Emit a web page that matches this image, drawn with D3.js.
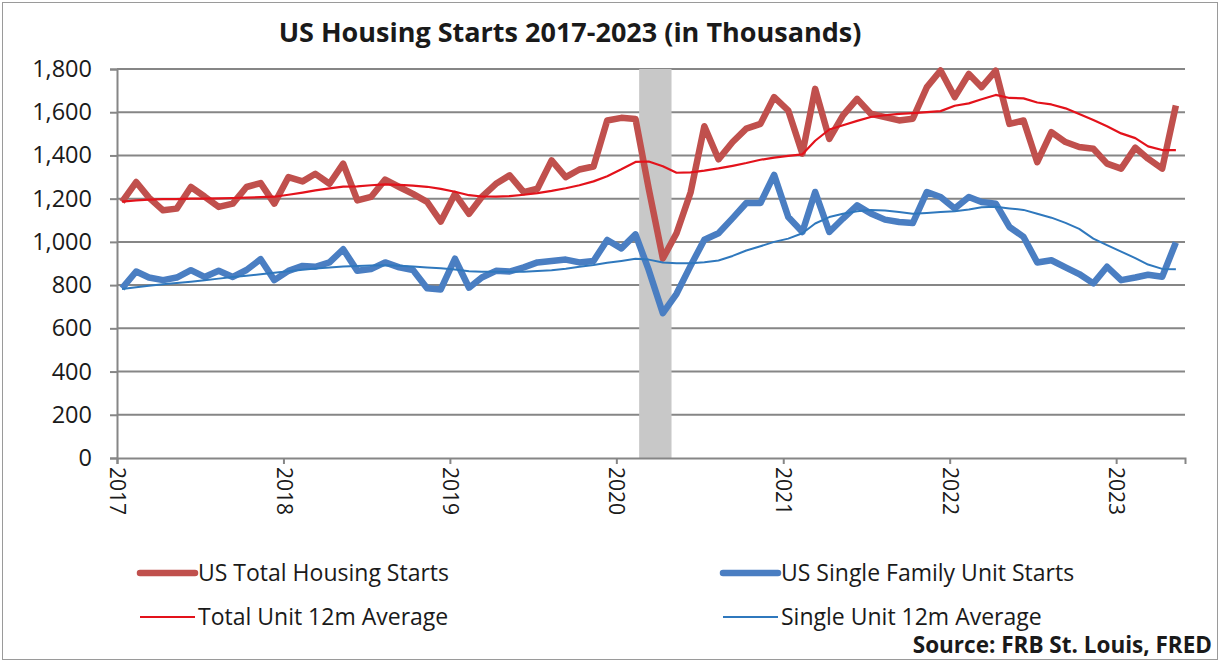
<!DOCTYPE html>
<html>
<head>
<meta charset="utf-8">
<script src="https://cdn.jsdelivr.net/npm/d3@7"></script>
<style>
  body { margin: 0; background: #fff; }
  svg text { font-family: "Open Sans", Lato, sans-serif; fill: #1a1a1a; }
</style>
</head>
<body>
<div id="chart"></div>
<script>
// monthly, Jan 2017 - May 2023 (thousands of units, SAAR)
var totalStarts = [1185, 1277, 1205, 1146, 1154, 1254, 1210, 1162, 1177, 1254, 1272, 1177,
  1300, 1280, 1315, 1269, 1362, 1192, 1208, 1288, 1254, 1222, 1185, 1094,
  1222, 1130, 1208, 1269, 1308, 1230, 1246, 1377, 1300, 1335, 1349, 1562,
  1574, 1569, 1246, 923, 1040, 1230, 1535, 1382, 1462, 1524, 1546, 1670,
  1608, 1408, 1708, 1477, 1585, 1662, 1593, 1577, 1562, 1570, 1716, 1793,
  1670, 1777, 1716, 1792, 1546, 1562, 1369, 1508, 1462, 1439, 1431, 1362,
  1339, 1436, 1385, 1339, 1631];
var singleStarts = [785, 863, 835, 823, 835, 869, 838, 866, 838, 870, 920, 823,
  866, 889, 885, 905, 966, 866, 874, 905, 882, 870, 785, 780,
  922, 788, 835, 866, 863, 882, 905, 912, 918, 905, 912, 1009,
  970, 1035, 870, 670, 760, 890, 1010, 1040, 1110, 1180, 1180, 1310,
  1115, 1046, 1231, 1046, 1108, 1169, 1131, 1103, 1092, 1087, 1231, 1208,
  1154, 1208, 1185, 1177, 1069, 1023, 905, 915, 882, 851, 808, 885,
  823, 835, 848, 839, 997];
var totalAvg = [1186, 1192, 1196, 1198, 1198, 1200, 1200, 1201, 1203, 1205, 1207, 1209,
  1218, 1228, 1238, 1248, 1256, 1257, 1262, 1266, 1264, 1260, 1255, 1245,
  1232, 1216, 1210, 1209, 1212, 1218, 1226, 1236, 1248, 1262, 1280, 1304,
  1336, 1370, 1372, 1350, 1320, 1322, 1330, 1340, 1352, 1365, 1380, 1390,
  1398, 1405, 1468, 1520, 1540, 1560, 1578, 1586, 1592, 1596, 1600, 1605,
  1630, 1641, 1660, 1680, 1666, 1664, 1645, 1636, 1618, 1592, 1564, 1535,
  1502, 1480, 1442, 1425, 1425];
var singleAvg = [782, 790, 797, 804, 810, 816, 823, 830, 837, 843, 850, 857,
  864, 871, 877, 882, 886, 888, 891, 892, 890, 886, 882, 878,
  872, 864, 862, 862, 862, 862, 865, 869, 876, 885, 893, 903,
  912, 922, 918, 905, 901, 901, 906, 914, 935, 960, 980, 1000,
  1015, 1040, 1085, 1115, 1130, 1142, 1148, 1145, 1138, 1130, 1134, 1138,
  1142, 1150, 1160, 1163, 1155, 1148, 1130, 1112, 1088, 1060, 1015, 985,
  955, 925, 895, 875, 873];
var yTicks = [0, 200, 400, 600, 800, 1000, 1200, 1400, 1600, 1800];
var recession = [new Date(2020, 1, 20), new Date(2020, 4, 1)];
var months = d3.timeMonth.range(new Date(2017, 0, 1), new Date(2023, 5, 1));

var width = 1220, height = 668,
    plotLeft = 117, plotRight = 1185, plotTop = 69, plotBottom = 458,
    redThick = "#c0504d", redThin = "#e3121b",
    blueThick = "#4a7ec2", blueThin = "#2f78bd",
    gridColor = "#868686";

var svg = d3.select("#chart").append("svg")
  .attr("width", width)
  .attr("height", height);

svg.append("rect")
  .attr("x", 2.5).attr("y", 2.5)
  .attr("width", width - 5).attr("height", 657)
  .attr("fill", "#fff")
  .attr("stroke", "#9a9a9a");

var x = d3.scaleTime()
  .domain([new Date(2017, 0, 1), new Date(2023, 5, 1)])
  .range([plotLeft, plotRight]);
var y = d3.scaleLinear()
  .domain([0, 1800])
  .range([plotBottom, plotTop]);

function px(i) { return x(d3.timeDay.offset(months[i], 11)); }

// gridlines
svg.append("g")
  .selectAll("line")
  .data(yTicks.filter(function(d) { return d > 0; }))
  .enter().append("line")
  .attr("x1", plotLeft).attr("x2", plotRight)
  .attr("y1", function(d) { return y(d); })
  .attr("y2", function(d) { return y(d); })
  .attr("stroke", gridColor)
  .attr("stroke-width", 2);

// recession band
svg.append("rect")
  .attr("x", x(recession[0]))
  .attr("width", x(recession[1]) - x(recession[0]))
  .attr("y", plotTop)
  .attr("height", plotBottom - plotTop)
  .attr("fill", "#c8c8c8");

// y axis
var yAxis = svg.append("g")
  .attr("transform", "translate(" + plotLeft + ",0)")
  .call(d3.axisLeft(y).tickValues(yTicks).tickSize(7).tickPadding(18).tickFormat(d3.format(",")));
yAxis.select(".domain").attr("stroke", gridColor).attr("stroke-width", 2);
yAxis.selectAll(".tick line").attr("stroke", gridColor).attr("stroke-width", 2);
yAxis.selectAll("text").style("font-size", "23.5px").style("font-family", "'Open Sans', sans-serif");

// x axis
var xAxis = svg.append("g")
  .attr("transform", "translate(0," + plotBottom + ")")
  .call(d3.axisBottom(x).ticks(d3.timeYear.every(1)).tickSize(6).tickFormat(d3.timeFormat("%Y")));
xAxis.select(".domain").attr("stroke", gridColor).attr("stroke-width", 2);
xAxis.selectAll(".tick line").attr("stroke", gridColor).attr("stroke-width", 2);
xAxis.selectAll("text")
  .style("font-size", "21px")
  .style("font-family", "'Open Sans', sans-serif")
  .attr("text-anchor", "start")
  .attr("dy", "0.35em")
  .attr("transform", "translate(0,9) rotate(90)")
  .attr("x", 0).attr("y", 0);

var line = d3.line()
  .x(function(d, i) { return px(i); })
  .y(function(d) { return y(d); });

var series = [
  { values: singleStarts, color: blueThick, w: 6.5 },
  { values: totalStarts, color: redThick, w: 6.5 },
  { values: singleAvg, color: blueThin, w: 2 },
  { values: totalAvg, color: redThin, w: 2.2 }
];
series.forEach(function(s) {
  svg.append("path")
    .datum(s.values)
    .attr("d", line)
    .attr("fill", "none")
    .attr("stroke", s.color)
    .attr("stroke-width", s.w)
    .attr("stroke-linejoin", "round");
});

// title
svg.append("text")
  .attr("x", 570).attr("y", 42)
  .attr("text-anchor", "middle")
  .style("font-size", "27px")
  .style("font-weight", "bold")
  .text("US Housing Starts 2017-2023 (in Thousands)");

// legend
var legend = [
  { name: "US Total Housing Starts", color: redThick, w: 6.5, lx: 140, ly: 573 },
  { name: "Total Unit 12m Average", color: redThin, w: 2.2, lx: 140, ly: 617 },
  { name: "US Single Family Unit Starts", color: blueThick, w: 6.5, lx: 723, ly: 573 },
  { name: "Single Unit 12m Average", color: blueThin, w: 2, lx: 723, ly: 617 }
];
var lg = svg.append("g").selectAll("g")
  .data(legend)
  .enter().append("g")
  .attr("transform", function(d) { return "translate(" + d.lx + "," + d.ly + ")"; });
lg.append("line")
  .attr("x1", 0).attr("x2", 55)
  .attr("stroke", function(d) { return d.color; })
  .attr("stroke-width", function(d) { return d.w; })
  .attr("stroke-linecap", function(d) { return d.w > 3 ? "round" : "butt"; });
lg.append("text")
  .attr("x", 58).attr("dy", "0.35em")
  .style("font-size", "23px")
  .text(function(d) { return d.name; });

svg.append("text")
  .attr("x", 1212).attr("y", 653)
  .attr("text-anchor", "end")
  .style("font-size", "22.5px")
  .style("font-weight", "bold")
  .text("Source: FRB St. Louis, FRED");
</script>
</body>
</html>
